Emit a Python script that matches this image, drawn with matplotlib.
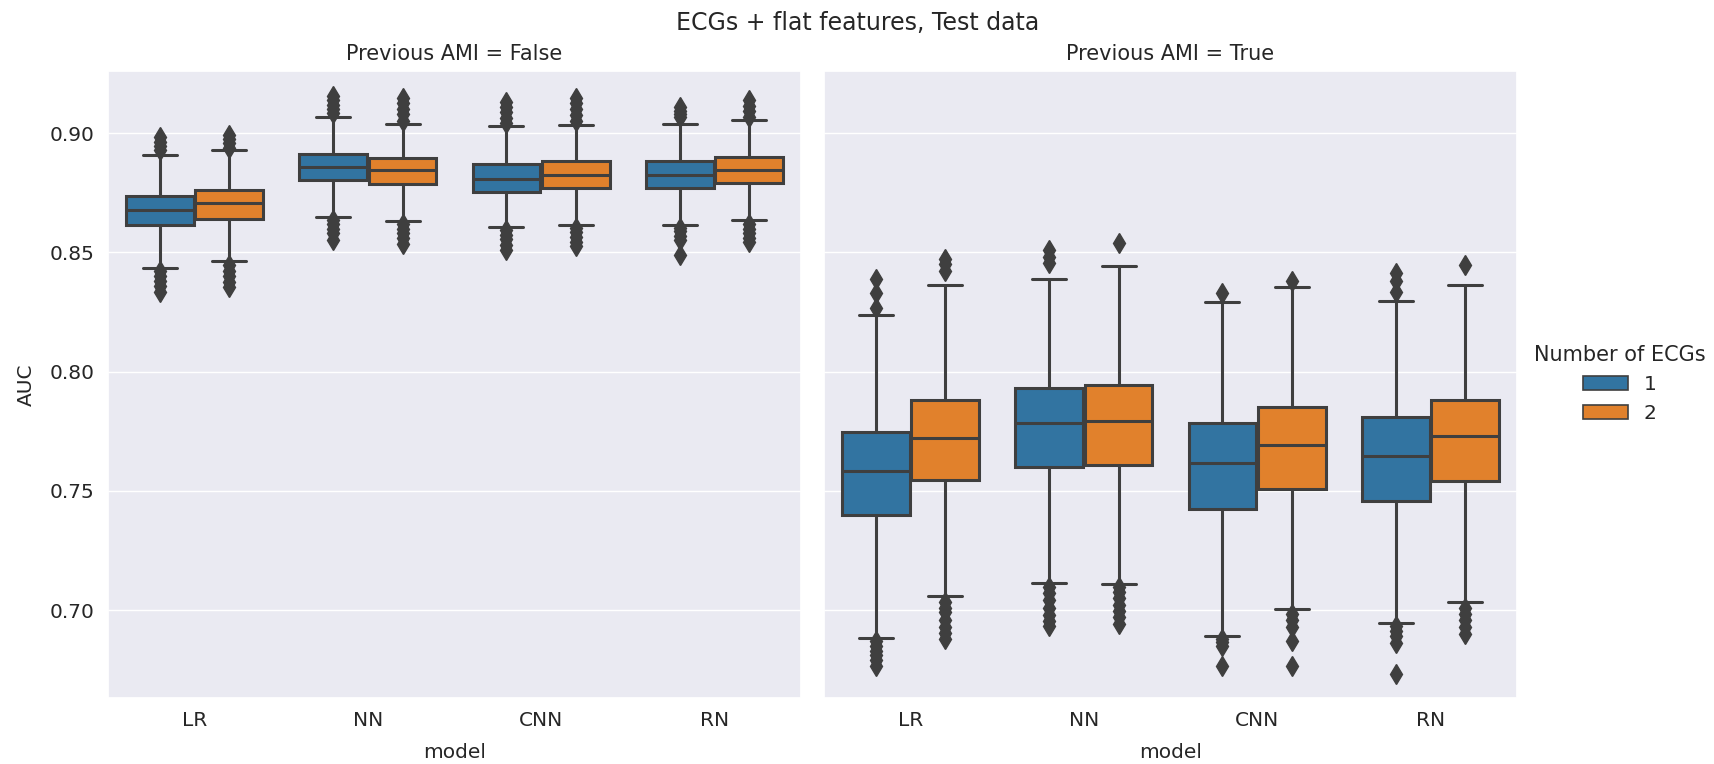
import numpy as np
import matplotlib
matplotlib.use("Agg")
import matplotlib.pyplot as plt
import seaborn as sns
from matplotlib.patches import Patch

sns.set_theme(style="darkgrid")
plt.rcParams['font.family'] = ['DejaVu Sans']

# ── Data: bootstrapped AUC box statistics ─────────────────────────────────────
MODELS = ['LR', 'NN', 'CNN', 'RN']
N_ECGS = ['1', '2']
PANELS = ['Previous AMI = False', 'Previous AMI = True']

# per panel, per model, per ECG count: (whislo, q1, median, q3, whishi)
STATS_FALSE = {
    ('LR', '1'):  (0.8435, 0.8614, 0.8679, 0.8736, 0.8910),
    ('LR', '2'):  (0.8464, 0.8641, 0.8707, 0.8762, 0.8928),
    ('NN', '1'):  (0.8648, 0.8803, 0.8859, 0.8912, 0.9067),
    ('NN', '2'):  (0.8631, 0.8786, 0.8847, 0.8897, 0.9038),
    ('CNN', '1'): (0.8607, 0.8755, 0.8810, 0.8869, 0.9031),
    ('CNN', '2'): (0.8617, 0.8771, 0.8826, 0.8883, 0.9033),
    ('RN', '1'):  (0.8614, 0.8771, 0.8826, 0.8884, 0.9040),
    ('RN', '2'):  (0.8636, 0.8791, 0.8847, 0.8902, 0.9055),
}
STATS_TRUE = {
    ('LR', '1'):  (0.6881, 0.7400, 0.7583, 0.7745, 0.8236),
    ('LR', '2'):  (0.7057, 0.7545, 0.7722, 0.7883, 0.8364),
    ('NN', '1'):  (0.7112, 0.7600, 0.7785, 0.7931, 0.8388),
    ('NN', '2'):  (0.7110, 0.7607, 0.7791, 0.7943, 0.8443),
    ('CNN', '1'): (0.6893, 0.7424, 0.7617, 0.7786, 0.8291),
    ('CNN', '2'): (0.7005, 0.7507, 0.7691, 0.7852, 0.8357),
    ('RN', '1'):  (0.6945, 0.7457, 0.7648, 0.7809, 0.8298),
    ('RN', '2'):  (0.7033, 0.7541, 0.7729, 0.7883, 0.8364),
}

FLIERS_FALSE = {
    ('LR', '1'):  [0.8983, 0.8965, 0.8948, 0.8930, 0.8422, 0.8400, 0.8380, 0.8360, 0.8336],
    ('LR', '2'):  [0.8991, 0.8975, 0.8958, 0.8940, 0.8448, 0.8420, 0.8400, 0.8375, 0.8353],
    ('NN', '1'):  [0.9155, 0.9140, 0.9120, 0.9100, 0.9086, 0.8638, 0.8620, 0.8600, 0.8580, 0.8552],
    ('NN', '2'):  [0.9147, 0.9125, 0.9100, 0.9080, 0.9052, 0.8621, 0.8600, 0.8580, 0.8560, 0.8534],
    ('CNN', '1'): [0.9129, 0.9110, 0.9090, 0.9065, 0.9043, 0.8595, 0.8575, 0.8555, 0.8530, 0.8509],
    ('CNN', '2'): [0.9147, 0.9125, 0.9100, 0.9075, 0.9052, 0.8603, 0.8585, 0.8565, 0.8545, 0.8526],
    ('RN', '1'):  [0.9112, 0.9095, 0.9080, 0.9069, 0.8603, 0.8590, 0.8570, 0.8552, 0.8491],
    ('RN', '2'):  [0.9138, 0.9115, 0.9095, 0.9069, 0.8621, 0.8600, 0.8580, 0.8560, 0.8543],
}
FLIERS_TRUE = {
    ('LR', '1'):  [0.8388, 0.8330, 0.8267, 0.6871, 0.6850, 0.6830, 0.6810, 0.6790, 0.6767],
    ('LR', '2'):  [0.8474, 0.8450, 0.8422, 0.7034, 0.7010, 0.6990, 0.6960, 0.6930, 0.6905, 0.6879],
    ('NN', '1'):  [0.8509, 0.8480, 0.8457, 0.7095, 0.7070, 0.7040, 0.7010, 0.6980, 0.6955, 0.6931],
    ('NN', '2'):  [0.8540, 0.7095, 0.7075, 0.7050, 0.7020, 0.6995, 0.6970, 0.6940],
    ('CNN', '1'): [0.8328, 0.6880, 0.6865, 0.6850, 0.6767],
    ('CNN', '2'): [0.8379, 0.6983, 0.6960, 0.6930, 0.6870, 0.6767],
    ('RN', '1'):  [0.8414, 0.8380, 0.8336, 0.6931, 0.6910, 0.6890, 0.6862, 0.6733],
    ('RN', '2'):  [0.8448, 0.7009, 0.6985, 0.6960, 0.6930, 0.6898],
}

PANEL_STATS = [STATS_FALSE, STATS_TRUE]
PANEL_FLIERS = [FLIERS_FALSE, FLIERS_TRUE]

COLORS = {'1': '#3274a1', '2': '#e1812c'}
GRAY = '#3f3f3f'
TXT = '#262626'

W, H = 1715, 764
fig = plt.figure(figsize=(W / 100, H / 100), dpi=100)

# two facets sharing the AUC axis
axL = fig.add_axes([108 / W, 1 - 698 / H, 693 / W, 627 / H])
axR = fig.add_axes([824 / W, 1 - 698 / H, 693 / W, 627 / H], sharey=axL)

box_w = 0.4 * 0.98
for ax, stats, fliers, title in zip([axL, axR], PANEL_STATS, PANEL_FLIERS, PANELS):
    for i, m in enumerate(MODELS):
        for j, n in enumerate(N_ECGS):
            lo, q1, med, q3, hi = stats[(m, n)]
            st = dict(whislo=lo, q1=q1, med=med, q3=q3, whishi=hi,
                      fliers=fliers[(m, n)])
            pos = i - 0.2 + 0.4 * j
            ax.bxp([st], positions=[pos], widths=box_w, capwidths=box_w / 2,
                   patch_artist=True, manage_ticks=False,
                   boxprops=dict(facecolor=COLORS[n], edgecolor=GRAY, linewidth=2.2),
                   medianprops=dict(color=GRAY, linewidth=2.2),
                   whiskerprops=dict(color=GRAY, linewidth=2.2),
                   capprops=dict(color=GRAY, linewidth=2.2),
                   flierprops=dict(marker='d', markersize=10, markerfacecolor=GRAY,
                                   markeredgecolor=GRAY, linestyle='none'))
    ax.set_xlim(-0.5, len(MODELS) - 0.5)
    ax.set_xticks(range(len(MODELS)))
    ax.set_xticklabels(MODELS)
    ax.set_xlabel('model', fontsize=14.5, color=TXT, labelpad=9)
    ax.set_title(title, fontsize=15, color=TXT, pad=8)
    ax.tick_params(labelsize=14.5, colors=TXT)
    ax.grid(axis='x', visible=False)

axL.set_ylim(0.6631, 0.9261)
axL.set_yticks([0.70, 0.75, 0.80, 0.85, 0.90])
axL.set_ylabel('AUC', fontsize=14.5, color=TXT, labelpad=10)
axR.tick_params(axis='y', labelleft=False)

handles = [Patch(facecolor=COLORS[n], edgecolor=GRAY, linewidth=1.2, label=n) for n in N_ECGS]
leg = fig.legend(handles=handles, title='Number of ECGs', loc='center left',
                 bbox_to_anchor=(1516 / W, 0.497), frameon=False,
                 fontsize=14.5, title_fontsize=15, handlelength=2.2)

fig.suptitle('ECGs + flat features, Test data', fontsize=17, color=TXT, y=0.985)

fig.savefig('out.png', dpi=100)
